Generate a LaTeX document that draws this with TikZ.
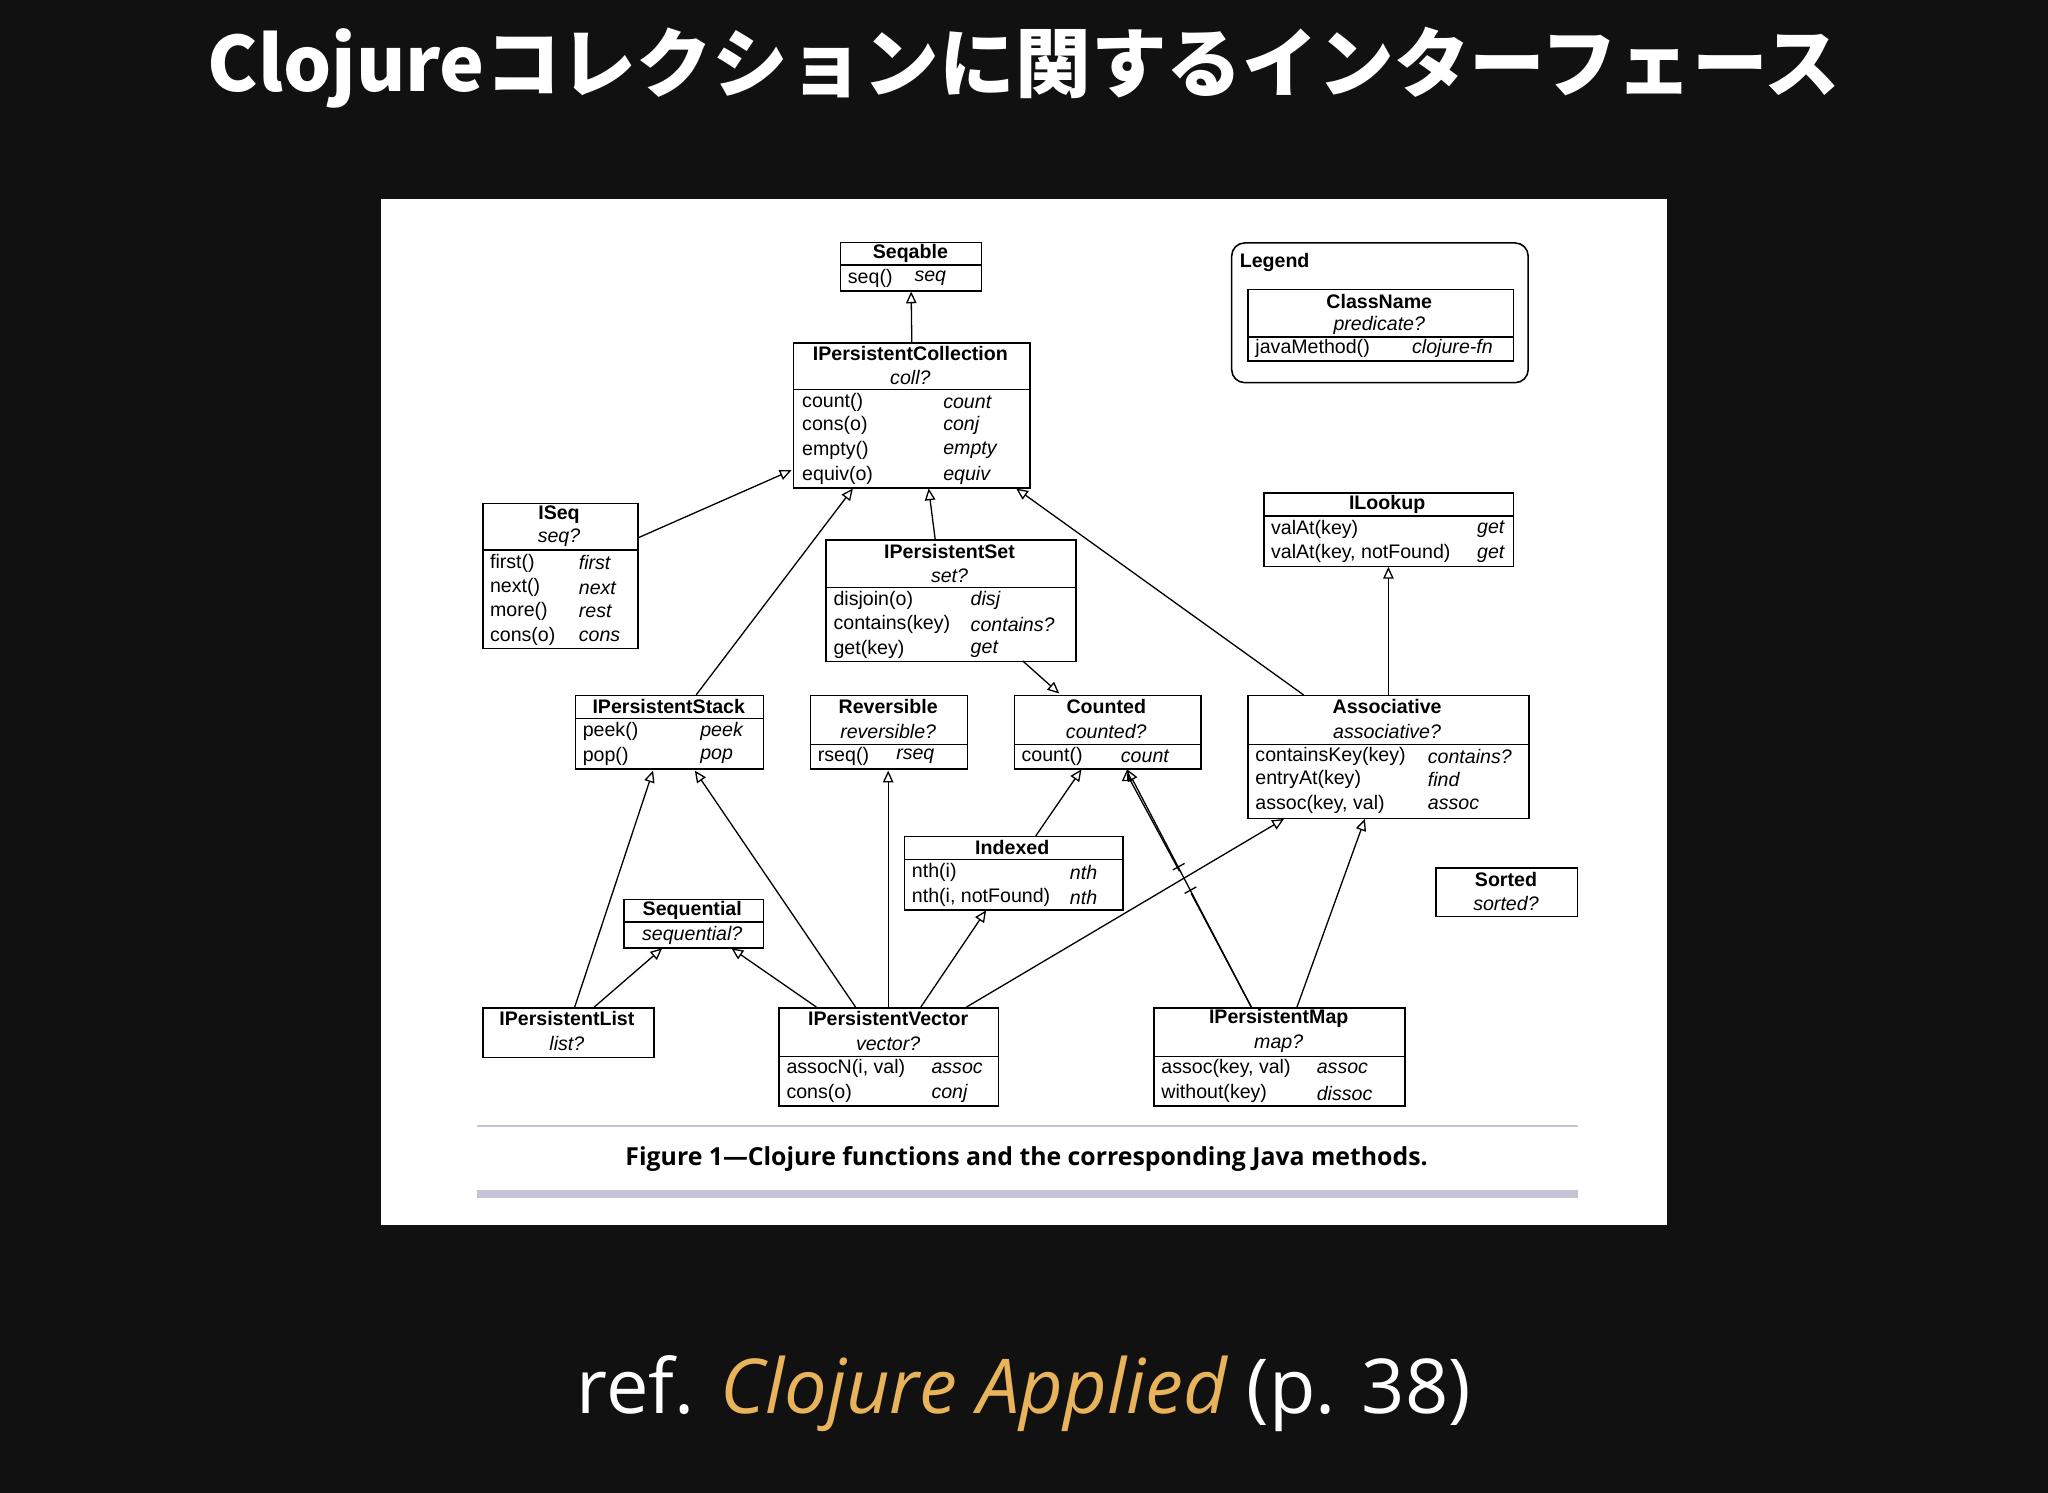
\documentclass[tikz,border=0pt]{standalone}
\usepackage{fontspec}
\setmainfont{Liberation Sans}
\newfontfamily\cjkf{Noto Sans CJK JP}
\newfontfamily\opens{Open Sans}
\usetikzlibrary{arrows.meta}
\definecolor{bg}{HTML}{111111}
\definecolor{orng}{HTML}{E8B35A}
\definecolor{capline}{HTML}{C4C4D4}
\tikzset{
 box/.style={draw,line width=1.2pt},
 sep/.style={line width=1pt},
 t/.style={inner sep=0pt,font=\fontsize{15}{15}\selectfont},
 tb/.style={t,font=\fontsize{15}{15}\selectfont\bfseries},
 ti/.style={t,font=\fontsize{15}{15}\selectfont\itshape},
 inh/.style={line width=1pt,-{Triangle[open,length=9pt,width=8pt]}},
}
\newcommand{\ubox}[6]{% name x1 y1 x2 y2 split
 \node[box,anchor=north west,minimum width=#4pt-#2pt,minimum height=#5pt-#3pt,inner sep=0pt] (#1) at (#2,#3) {};
 \ifx&#6&\else\draw[sep] (#2,#6) -- (#4,#6);\fi}
\begin{document}
\begin{tikzpicture}[x=1pt,y=-1pt]
\fill[bg] (0,0) rectangle (1568,1143);
\useasboundingbox (0,0) rectangle (1568,1143);
\fill[white] (292,152) rectangle (1276,938);
\node[text=white,font=\cjkf\fontsize{58}{58}\selectfont\bfseries] (title) at (784,52) {Clojureコレクションに関するインターフェース};
\node[text=white,font=\opens\fontsize{58}{58}\selectfont,anchor=base] (ref) at (784,1082) {ref. \textcolor{orng}{\itshape Clojure Applied} (p. 38)};
% caption
\draw[capline,line width=2pt] (365,862) -- (1208,862);
\draw[capline,line width=6pt] (365,914) -- (1208,914);
\node[font=\opens\fontsize{19}{19}\selectfont\bfseries] (cap) at (786,887) {Figure 1—Clojure functions and the corresponding Java methods.};
% Seqable
\ubox{seqable}{643}{185}{751}{222}{203}
\node[tb] at (697,194) {Seqable};
\node[t,anchor=west] at (649,213) {seq()};
\node[ti,anchor=west] at (700,213) {seq};
% IPC
\ubox{ipc}{607}{262}{788}{373}{298}
\node[tb] at (697,271) {IPersistentCollection};
\node[ti] at (697,289) {coll?};
\foreach \a/\b/\y in {count()/count/308,cons(o)/conj/326,empty()/empty/345,equiv(o)/equiv/364}{
 \node[t,anchor=west] at (614,\y) {\a}; \node[ti,anchor=west] at (722,\y) {\b};}
% Legend
\draw[line width=1.2pt,rounded corners=10pt] (943,186) rectangle (1170,293);
\node[tb,anchor=west] (leg) at (949,201) {Legend};
\ubox{legbox}{955}{221}{1158}{276}{258}
\node[tb] at (1056,231) {ClassName};
\node[ti] at (1056,249) {predicate?};
\node[t,anchor=west] at (961,267) {javaMethod()};
\node[ti,anchor=west] at (1081,267) {clojure-fn};
% ISeq
\ubox{iseq}{369}{385}{488}{496}{421}
\node[tb] at (428,394) {ISeq};
\node[ti] at (428,412) {seq?};
\foreach \a/\b/\y in {first()/first/431,next()/next/450,more()/rest/468,cons(o)/cons/487}{
 \node[t,anchor=west] at (375,\y) {\a}; \node[ti,anchor=west] at (443,\y) {\b};}
% IPSet
\ubox{ipset}{632}{413}{823}{506}{450}
\node[tb] at (727,422) {IPersistentSet};
\node[ti] at (727,441) {set?};
\foreach \a/\b/\y in {disjoin(o)/disj/460,contains(key)/contains?/478,get(key)/get/497}{
 \node[t,anchor=west] at (638,\y) {\a}; \node[ti,anchor=west] at (743,\y) {\b};}
% ILookup
\ubox{ilookup}{967}{377}{1158}{433}{395}
\node[tb] at (1062,386) {ILookup};
\node[t,anchor=west] at (973,405) {valAt(key)};
\node[ti,anchor=east] at (1152,405) {get};
\node[t,anchor=west] at (973,424) {valAt(key, notFound)};
\node[ti,anchor=east] at (1152,424) {get};
% IPStack
\ubox{ipstack}{440}{532}{584}{588}{550}
\node[tb] at (512,541) {IPersistentStack};
\node[t,anchor=west] at (446,560) {peek()}; \node[ti,anchor=west] at (536,560) {peek};
\node[t,anchor=west] at (446,579) {pop()}; \node[ti,anchor=west] at (536,579) {pop};
% Reversible
\ubox{rev}{620}{532}{740}{588}{570}
\node[tb] at (680,541) {Reversible};
\node[ti] at (680,560) {reversible?};
\node[t,anchor=west] at (626,579) {rseq()}; \node[ti,anchor=west] at (686,579) {rseq};
% Counted
\ubox{counted}{776}{532}{919}{588}{570}
\node[tb] at (847,541) {Counted};
\node[ti] at (847,560) {counted?};
\node[t,anchor=west] at (782,579) {count()}; \node[ti,anchor=west] at (858,579) {count};
% Associative
\ubox{assoc}{955}{532}{1170}{626}{570}
\node[tb] at (1062,541) {Associative};
\node[ti] at (1062,560) {associative?};
\foreach \a/\b/\y in {containsKey(key)/contains?/579,entryAt(key)/find/597,{assoc(key, val)}/assoc/616}{
 \node[t,anchor=west] at (961,\y) {\a}; \node[ti,anchor=west] at (1093,\y) {\b};}
% Indexed
\ubox{indexed}{692}{640}{859}{696}{658}
\node[tb] at (775,649) {Indexed};
\node[t,anchor=west] at (698,668) {nth(i)}; \node[ti,anchor=west] at (819,668) {nth};
\node[t,anchor=west] at (698,687) {nth(i, notFound)}; \node[ti,anchor=west] at (819,687) {nth};
% Sorted
\ubox{sorted}{1099}{664}{1207}{701}{}
\node[tb] at (1153,673) {Sorted};
\node[ti] at (1153,692) {sorted?};
% Sequential
\ubox{sequential}{477}{688}{584}{725}{706}
\node[tb] at (530,697) {Sequential};
\node[ti] at (530,716) {sequential?};
% IPList
\ubox{iplist}{369}{771}{500}{809}{}
\node[tb] at (434,780) {IPersistentList};
\node[ti] at (434,799) {list?};
% IPVector
\ubox{ipvec}{596}{771}{764}{846}{809}
\node[tb] at (680,780) {IPersistentVector};
\node[ti] at (680,799) {vector?};
\node[t,anchor=west] at (602,818) {assocN(i, val)}; \node[ti,anchor=west] at (713,818) {assoc};
\node[t,anchor=west] at (602,837) {cons(o)}; \node[ti,anchor=west] at (713,837) {conj};
% IPMap
\ubox{ipmap}{883}{771}{1075}{846}{809}
\node[tb] at (979,780) {IPersistentMap};
\node[ti] at (979,799) {map?};
\node[t,anchor=west] at (889,818) {assoc(key, val)}; \node[ti,anchor=west] at (1008,818) {assoc};
\node[t,anchor=west] at (889,837) {without(key)}; \node[ti,anchor=west] at (1008,837) {dissoc};
% arrows
\draw[inh] (ipc.north) -- (seqable.south);
\draw[inh] (488,412) -- (606,360);
\draw[inh] (533,532) -- (653,374);
\draw[inh] (716,413) -- (711,374);
\draw[inh] (998,532) -- (778,374);
\draw[inh] (1063,532) -- (1063,434);
\draw[inh] (783,506) -- (811,531);
\draw[inh] (793,640) -- (828,589);
\draw[line width=1pt] (958,771) -- (912,684);
\draw[line width=1pt] (903,667) -- (863,593);
\draw[inh] (863,593) -- (863,589);
\draw[inh] (958,771) -- (863,589);
\draw[line width=1pt] (898,666) -- (907,661) (907,684) -- (916,679);
\draw[inh] (440,771) -- (500,590);
\draw[inh] (455,771) -- (507,726);
\draw[inh] (655,771) -- (532,590);
\draw[inh] (625,771) -- (560,726);
\draw[inh] (680,771) -- (680,590);
\draw[inh] (705,771) -- (755,697);
\draw[inh] (740,771) -- (983,627);
\draw[inh] (993,771) -- (1045,627);
\end{tikzpicture}
\end{document}
